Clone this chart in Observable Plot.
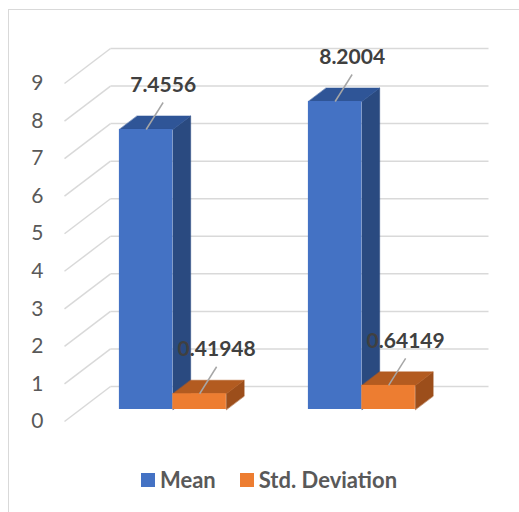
<!DOCTYPE html>
<html><head><meta charset="utf-8">
<script src="https://cdn.jsdelivr.net/npm/d3@7"></script>
<script src="https://cdn.jsdelivr.net/npm/@observablehq/plot@0.6"></script>
<style>
html,body{margin:0;padding:0;background:#fff;overflow:hidden;width:519px;height:512px;}
#frame{position:absolute;left:8px;top:9px;width:600px;height:600px;border:1.5px solid #d9d9d9;box-sizing:border-box;}
#chart{position:absolute;left:0;top:0;}
#legend{position:absolute;left:141px;top:469px;display:flex;align-items:center;font-family:Lato,sans-serif;font-weight:bold;font-size:22px;color:#595959;line-height:22px;}
.item{display:flex;align-items:center;margin-right:24px;}
.sw{width:14px;height:14px;display:inline-block;margin-right:5px;}
</style></head><body>
<div id="frame"></div>
<div id="chart"></div>
<div id="legend"></div>
<script>
// ---- data ----
const groups = ["Group 1", "Group 2"];
const series = ["Mean", "Std. Deviation"];
const meanValues = [7.4556, 8.2004];
const sdValues = [0.41948, 0.64149];
const yTicks = [0, 1, 2, 3, 4, 5, 6, 7, 8, 9];

// ---- styles ----
const frontColors = ["#4472C4", "#ED7D31"];
const topColors = ["#2F5597", "#B35B20"];
const sideColors = ["#2A4A80", "#9C4E1B"];

// ---- geometry ----
const W = 519, H = 450;
const mL = 64, mR = 77, mT = 83, mB = 29;
const pxX = (W - mL - mR) / groups.length;
const pxY = (H - mT - mB) / (yTicks.length - 1);
const DX = 46 / pxX, DY = 35 / pxY;        // full depth of the floor/wall
const f1 = 0.343, f2 = 0.73;               // bar front / back depth fractions
const barW = 0.283, groupC = 0.49;
const leadX = 17 / pxX, leadY = 27 / pxY;

const valuesBySeries = [meanValues, sdValues];
const bars = [];
groups.forEach((g, i) => {
  series.forEach((s, k) => {
    const v = valuesBySeries[k][i];
    const x1 = i + groupC + (k - 1) * barW + f1 * DX;
    const x2 = x1 + barW;
    const yb = f1 * DY, yt = v + f1 * DY;
    const ax = (x1 + x2) / 2;
    bars.push({group: g, series: s, k, value: v, x1, x2, yb, yt,
      ax, ay: yt, lx: ax + leadX, ly: yt + leadY});
  });
});
const ddx = (f2 - f1) * DX, ddy = (f2 - f1) * DY;
const topPts = [[], []], sidePts = [[], []];
bars.forEach(b => {
  const id = b.group + b.series;
  topPts[b.k].push(
    {id, x: b.x1, y: b.yt}, {id, x: b.x2, y: b.yt},
    {id, x: b.x2 + ddx, y: b.yt + ddy}, {id, x: b.x1 + ddx, y: b.yt + ddy});
  sidePts[b.k].push(
    {id, x: b.x2, y: b.yb}, {id, x: b.x2, y: b.yt},
    {id, x: b.x2 + ddx, y: b.yt + ddy}, {id, x: b.x2 + ddx, y: b.yb + ddy});
});
const gridDiag = yTicks.map(v => ({x1: 0, y1: v, x2: DX, y2: v + DY}));
const gridBack = yTicks.map(v => ({x1: DX, y1: v + DY, x2: groups.length + DX, y2: v + DY}));

const marks = [
  Plot.link(gridDiag, {x1: "x1", y1: "y1", x2: "x2", y2: "y2", stroke: "#d9d9d9", strokeWidth: 1.5}),
  Plot.link(gridBack, {x1: "x1", y1: "y1", x2: "x2", y2: "y2", stroke: "#d9d9d9", strokeWidth: 1.5})
];
[0, 1].forEach(k => {
  marks.push(
    Plot.line(sidePts[k], {x: "x", y: "y", z: "id", fill: sideColors[k], stroke: sideColors[k], strokeWidth: 0.5, curve: "linear-closed"}),
    Plot.line(topPts[k], {x: "x", y: "y", z: "id", fill: topColors[k], stroke: topColors[k], strokeWidth: 0.5, curve: "linear-closed"}),
    Plot.rect(bars.filter(b => b.k === k), {x1: "x1", x2: "x2", y1: "yb", y2: "yt", fill: frontColors[k]})
  );
});
marks.push(
  Plot.link(bars, {x1: "ax", y1: "ay", x2: "lx", y2: "ly", stroke: "#a6a6a6", strokeWidth: 1.5}),
  Plot.text(bars, {x: "lx", y: "ly", text: d => String(d.value), dy: -17,
    fontFamily: "Lato", fontWeight: "bold", fontSize: 21, fill: "#404040"})
);

const chart = Plot.plot({
  width: W, height: H,
  marginLeft: mL, marginRight: mR, marginTop: mT, marginBottom: mB,
  style: {fontFamily: "Lato", fontSize: "21px", color: "#595959", background: "transparent", overflow: "visible"},
  x: {domain: [0, groups.length], axis: null},
  y: {domain: [0, 9], ticks: yTicks, tickSize: 0, tickPadding: 21, label: null},
  marks
});
document.getElementById("chart").appendChild(chart);

const legend = document.getElementById("legend");
series.forEach((s, k) => {
  const it = document.createElement("div");
  it.className = "item";
  it.innerHTML = `<span class="sw" style="background:${frontColors[k]}"></span><span>${s}</span>`;
  legend.appendChild(it);
});
</script>
</body></html>
